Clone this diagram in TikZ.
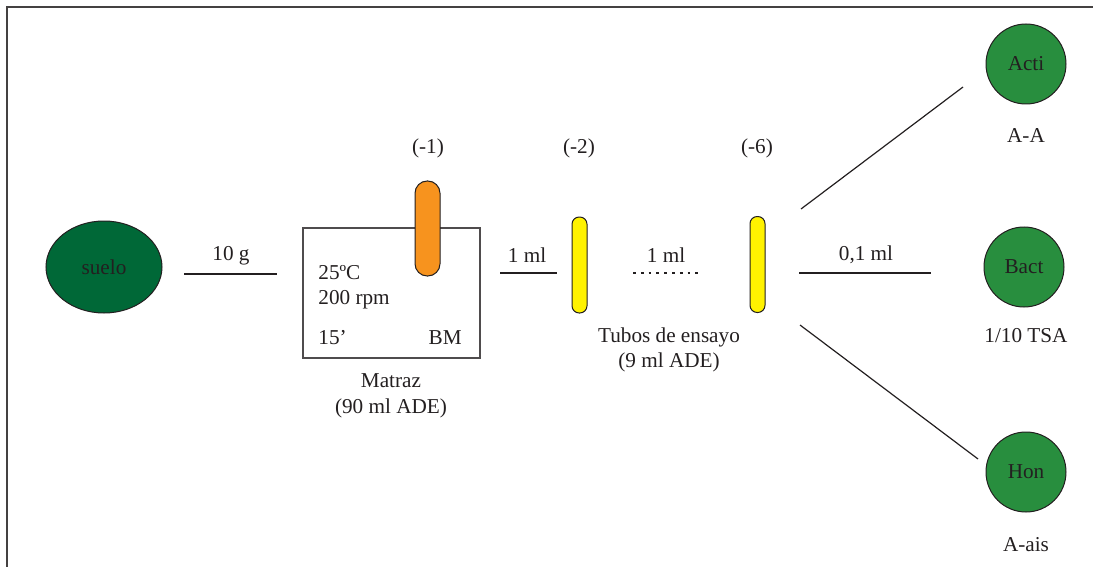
\documentclass[tikz,border=0pt]{standalone}
\usepackage{fontspec}
\setmainfont{Liberation Serif}
\usetikzlibrary{shapes.geometric}
\usetikzlibrary{positioning}

\definecolor{suelogreen}{RGB}{0,104,55}
\definecolor{plategreen}{RGB}{40,142,62}
\definecolor{tubeorange}{RGB}{247,147,30}
\definecolor{tubeyellow}{RGB}{255,242,0}
\definecolor{ink}{RGB}{35,31,32}

\tikzset{
  txt/.style={text=ink, font=\fontsize{10.6}{12.7}\selectfont, inner sep=0pt},
  plate/.style={circle, draw=ink, line width=0.5pt, fill=plategreen, minimum size=40pt, inner sep=0pt, txt},
  tubo/.style={draw=ink, line width=0.5pt, minimum width=7.5pt, minimum height=48pt, rounded corners=3.6pt, inner sep=0pt},
  flow/.style={draw=ink, line width=0.6pt},
}

\begin{document}
\begin{tikzpicture}[x=0.5pt, y=-0.5pt]
    \useasboundingbox (0,0) rectangle (1093,567);
    % marco
    \draw[line width=0.8pt, draw=ink!85] (7,567) -- (7,7) -- (1093,7);

    % suelo
    \node[ellipse, draw=ink, line width=0.5pt, fill=suelogreen, minimum width=58pt, minimum height=46pt, txt] (suelo) at (104,267) {suelo};
    \coordinate (g0) at (184,274);
    \coordinate (g1) at (277,274);
    \draw[flow] (g0) -- (g1);
    \node[txt] (gram) at (231,256) {10 g};

    % matraz
    \node[draw=ink!80, line width=0.6pt, minimum width=88.5pt, minimum height=65pt, inner sep=0pt] (matraz) at (391.5,293) {};
    \node[txt, anchor=west] (temp) at (318,273) {25ºC};
    \node[txt, anchor=west] (rpm) at (318,300) {200 rpm};
    \node[txt, anchor=west] (tiempo) at (318,338) {15’};
    \node[txt, anchor=east] (bm) at (462,338) {BM};
    \node[txt, align=center] (matrazlbl) at (391,396) {Matraz\\(90 ml ADE)};
    \node[tubo, fill=tubeorange, minimum width=12.5pt, minimum height=47.5pt, rounded corners=6.1pt] (tubo1) at (427.5,228.5) {};
    \node[txt] (dil1) at (428,148) {(-1)};

    % tubos de ensayo
    \coordinate (m0) at (500,273);
    \coordinate (m1) at (557,273);
    \draw[flow] (m0) -- (m1);
    \node[txt] (ml1) at (527,255) {1 ml};
    \node[tubo, fill=tubeyellow] (tubo2) at (579.5,265) {};
    \node[txt] (dil2) at (579,148) {(-2)};
    \coordinate (d0) at (633,273);
    \coordinate (d1) at (702,273);
    \draw[flow, dash pattern=on 1.4pt off 2.5pt] (d0) -- (d1);
    \node[txt] (ml2) at (666,255) {1 ml};
    \node[tubo, fill=tubeyellow] (tubo6) at (757.5,264.5) {};
    \node[txt] (dil6) at (757,148) {(-6)};
    \node[txt, align=center] (tuboslbl) at (669,350) {Tubos de ensayo\\(9 ml ADE)};

    % siembra
    \node[plate] (acti) at (1026,64) {Acti};
    \node[txt] (actilbl) at (1026,136) {A-A};
    \node[plate] (bact) at (1024,267) {Bact};
    \node[txt] (bactlbl) at (1026,336) {1/10 TSA};
    \node[plate] (hon) at (1026,472) {Hon};
    \node[txt] (honlbl) at (1026,545) {A-ais};

    \coordinate (s0) at (801,209);
    \coordinate (s1) at (963,87);
    \coordinate (s2) at (799,273);
    \coordinate (s3) at (931,273);
    \coordinate (s4) at (800,325);
    \coordinate (s5) at (978,459);
    \draw[flow] (s0) -- (s1);
    \draw[flow] (s2) -- (s3);
    \draw[flow] (s4) -- (s5);
    \node[txt] (ml3) at (866,255) {0,1 ml};
\end{tikzpicture}
\end{document}
